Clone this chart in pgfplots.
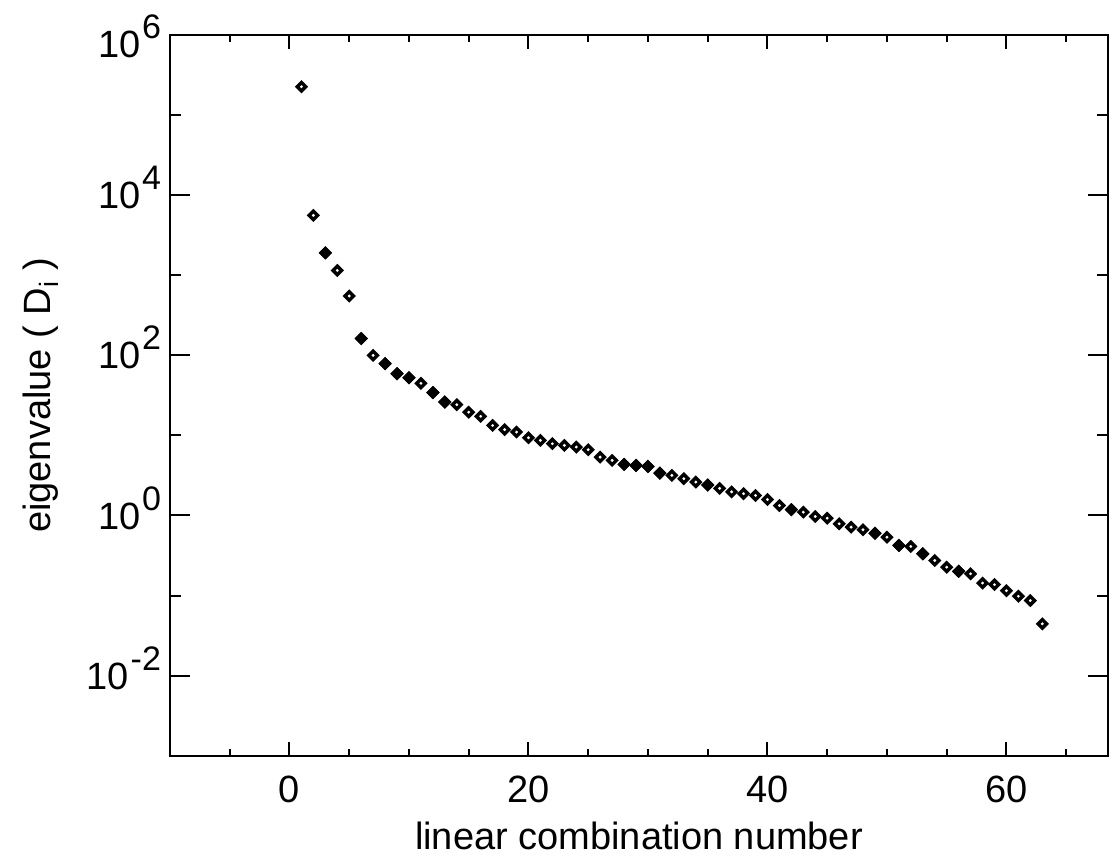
\documentclass[border=0pt]{standalone}
\usepackage{pgfplots}
\pgfplotsset{compat=1.18}
\usepackage{fontspec}
\setmainfont{Liberation Sans}
\newcommand\ee[1]{10\hspace{0.8pt}\raisebox{9.5pt}{\fontsize{17}{17}\selectfont #1}}
\begin{document}
\begin{tikzpicture}
\begin{axis}[
  scale only axis, width=469pt, height=360.35pt,
  xmin=-10, xmax=68.5, ymode=log, ymin=1e-3, ymax=1e6,
  xtick={0,20,40,60},
  minor xtick={-5,5,10,15,25,30,35,45,50,55,65},
  ytick={1e-2,1,1e2,1e4,1e6},
  yticklabels={\ee{-2},\ee{0},\ee{2},\ee{4},\raisebox{-4.5pt}{\ee{6}}},
  minor ytick={1e-3,1e-1,10,1e3,1e5},
  tick align=inside,
  axis line style={line width=1pt},
  every tick/.style={black, line width=1pt},
  x tick style={/pgfplots/major tick length=7pt,/pgfplots/minor tick length=3.5pt},
  y tick style={/pgfplots/major tick length=10pt,/pgfplots/minor tick length=5.5pt},
  font=\fontsize{19}{22}\selectfont,
  /pgf/number format/assume math mode=true,
  x tick label style={font=\fontsize{19}{22}\selectfont, anchor=base, yshift=-23.65pt},
  y tick label style={font=\fontsize{19}{22}\selectfont, anchor=base east, yshift=-6.8pt, xshift=-1pt},
  xlabel={linear combination number},
  ylabel={eigenvalue ( D\textsubscript{i} )},
  x label style={at={(axis description cs:0.5,-0.1308)}, anchor=base, font=\fontsize{19}{22}\selectfont},
  y label style={at={(axis description cs:-0.1375,0.5)}, anchor=center, font=\fontsize{19}{22}\selectfont},
]
\addplot[only marks, mark=square*, mark size=1.5pt, line width=1.7pt,
  mark options={rotate=45, draw=black, fill=white, solid}] table {
x y
1 2.26e5
2 5.6e3
3 1905
4 1148
5 550
6 162
7 100
8 78.7
9 59
10 52.4
11 44.7
12 34.3
13 26.1
14 24.2
15 19.5
16 17.3
17 13.3
18 11.8
19 11.0
20 9.35
21 8.66
22 7.87
23 7.5
24 7.14
25 6.63
26 5.35
27 4.87
28 4.34
29 4.22
30 4.10
31 3.38
32 3.16
33 2.88
34 2.61
35 2.40
36 2.18
37 1.97
38 1.87
39 1.78
40 1.58
41 1.33
42 1.18
43 1.10
44 0.97
45 0.925
46 0.787
47 0.714
48 0.663
49 0.601
50 0.536
51 0.422
52 0.41
53 0.332
54 0.274
55 0.226
56 0.201
57 0.187
58 0.143
59 0.137
60 0.115
61 0.098
62 0.0866
63 0.0443
};
\addplot[only marks, mark=square*, mark size=1.5pt, line width=1.7pt,
  mark options={rotate=45, draw=black, fill=black, solid}] table {
x y
3 1905
6 162
8 78.7
9 59
10 52.4
12 34.3
13 26.1
28 4.34
29 4.22
30 4.10
31 3.38
35 2.40
42 1.18
49 0.601
51 0.422
53 0.332
56 0.201
};
\end{axis}
\pgfresetboundingbox
\path (current axis.south west) ++(-85pt,-50.15pt) rectangle ++(557.5pt,428pt);
\end{tikzpicture}
\end{document}
